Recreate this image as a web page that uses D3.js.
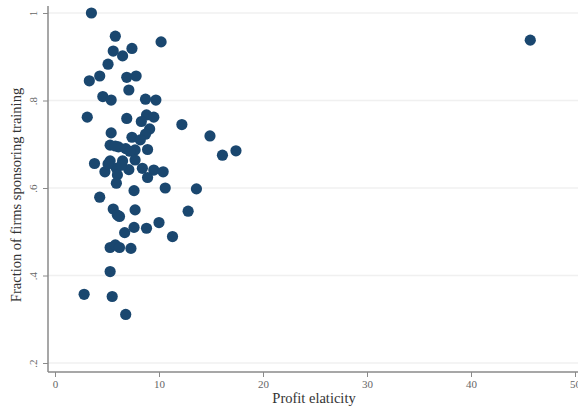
<!DOCTYPE html>
<html>
<head>
<meta charset="utf-8">
<script src="https://cdn.jsdelivr.net/npm/d3@7"></script>
<style>
  body { margin: 0; background: #fff; }
  svg { display: block; }
</style>
</head>
<body>
<svg id="canvas"></svg>
<script>
// profit elasticity (x) vs fraction of firms sponsoring training (y)
const elasticity = [
  3.5, 5.8, 10.2, 5.6, 7.4, 6.5, 5.1, 3.3, 4.3, 6.9, 7.8, 7.1, 4.6, 5.4, 8.7, 9.7,
  3.1, 6.9, 12.2, 8.8, 9.5, 8.3, 9.1, 8.7, 5.4, 7.4, 8.2, 5.3, 6.1, 6.8, 7.7, 8.9,
  7.2, 5.8, 3.8, 5.3, 6.5, 7.7, 4.8, 5.9, 7.1, 8.4, 9.5, 10.4, 6.0, 8.9, 5.9, 7.6,
  10.6, 13.6, 4.3, 5.6, 6.0, 6.2, 7.7, 12.8, 10.0, 8.8, 7.6, 6.7, 11.3, 5.3, 5.8,
  6.2, 7.3, 5.3, 2.8, 5.5, 6.8, 14.9, 16.1, 17.4, 45.7, 6.4, 5.1
]
const fraction = [
  1.0, .947, .934, .913, .919, .902, .883, .845, .856, .853, .856, .824, .809, .801, .803, .801,
  .762, .759, .745, .767, .762, .752, .735, .723, .726, .716, .71, .698, .694, .69, .687, .688,
  .684, .696, .656, .662, .662, .664, .637, .645, .642, .645, .641, .637, .63, .624, .611, .594,
  .6, .598, .579, .552, .538, .535, .55, .547, .521, .508, .51, .498, .489, .464, .47,
  .464, .462, .409, .357, .352, .311, .719, .675, .685, .938, .652, .655
]
const xTicks = [0, 10, 20, 30, 40, 50]
const yTicks = [.2, .4, .6, .8, 1]
const yTickLabels = ['.2', '.4', '.6', '.8', '1']

let width = 578
let height = 409
let svg = d3.select('#canvas')
svg.attr('width', width).attr('height', height)

let xScale = d3.scaleLinear().domain([0, 50]).range([55, 575])
let yScale = d3.scaleLinear().domain([0.2, 1]).range([363, 13])

let axisLeftX = 48
let axisBottomY = 372

// faint gridlines
svg.append('g')
  .selectAll('line')
  .data(yTicks)
  .enter()
  .append('line')
  .attr('x1', axisLeftX)
  .attr('x2', width)
  .attr('y1', d => yScale(d))
  .attr('y2', d => yScale(d))
  .attr('stroke', '#f0f0f0')
  .attr('stroke-width', 1.5)

// x axis
let xAxis = d3.axisBottom(xScale)
  .tickValues(xTicks)
  .tickFormat(d3.format('d'))
  .tickSizeOuter(0)
  .tickSize(5)
  .tickPadding(3)
let gx = svg.append('g')
  .attr('id', 'x-axis')
  .attr('transform', 'translate(0,' + axisBottomY + ')')
  .call(xAxis)
gx.select('.domain').remove()
gx.append('line')
  .attr('x1', axisLeftX).attr('x2', width)
  .attr('stroke', '#8a8a8a').attr('stroke-width', 1.5)
gx.selectAll('.tick line').attr('stroke', '#8a8a8a')
gx.selectAll('.tick text')
  .attr('fill', '#666')
  .style('font-family', '"Liberation Serif", serif')
  .style('font-size', '11px')

// y axis
let yAxis = d3.axisLeft(yScale)
  .tickValues(yTicks)
  .tickFormat((d, i) => yTickLabels[i])
  .tickSizeOuter(0)
  .tickSize(5)
let gy = svg.append('g')
  .attr('id', 'y-axis')
  .attr('transform', 'translate(' + axisLeftX + ',0)')
  .call(yAxis)
gy.select('.domain').remove()
gy.append('line')
  .attr('y1', 6).attr('y2', axisBottomY)
  .attr('stroke', '#8a8a8a').attr('stroke-width', 1.5)
gy.selectAll('.tick line').attr('stroke', '#8a8a8a')
gy.selectAll('.tick text')
  .attr('x', 0)
  .attr('dy', 0)
  .attr('text-anchor', 'middle')
  .attr('transform', 'translate(-11,0) rotate(-90)')
  .attr('fill', '#666')
  .style('font-family', '"Liberation Serif", serif')
  .style('font-size', '11px')

// axis titles
svg.append('text')
  .attr('x', 314)
  .attr('y', 403)
  .attr('text-anchor', 'middle')
  .attr('fill', '#333')
  .style('font-family', '"Liberation Serif", serif')
  .style('font-size', '14.5px')
  .text('Profit elaticity')

svg.append('text')
  .attr('transform', 'translate(21,' + 195 + ') rotate(-90)')
  .attr('text-anchor', 'middle')
  .attr('fill', '#333')
  .style('font-family', '"Liberation Serif", serif')
  .style('font-size', '14.5px')
  .text('Fraction of firms sponsoring training')

// points
let points = elasticity.map((v, i) => ({ x: v, y: fraction[i] }))
svg.append('g')
  .selectAll('circle')
  .data(points)
  .enter()
  .append('circle')
  .attr('cx', d => xScale(d.x))
  .attr('cy', d => yScale(d.y))
  .attr('r', 5.6)
  .attr('fill', '#1a476f')
</script>
</body>
</html>
